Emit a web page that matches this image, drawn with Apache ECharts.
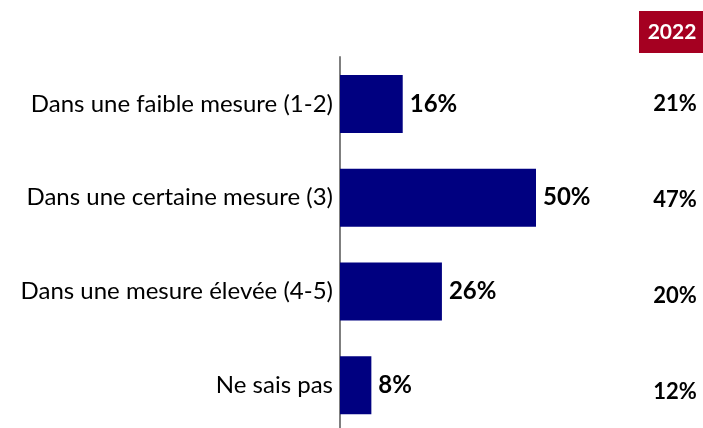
<!DOCTYPE html>
<html>
<head>
<meta charset="utf-8">
<script src="https://cdn.jsdelivr.net/npm/echarts@6/dist/echarts.min.js"></script>
<style>
  html, body { margin: 0; padding: 0; background: #fff; }
  #chart { width: 703px; height: 428px; }
</style>
</head>
<body>
<div id="chart"></div>
<script>
// Survey answers, current wave and the 2022 comparison column
const categories = [
  'Dans une faible mesure (1-2)',
  'Dans une certaine mesure (3)',
  'Dans une mesure élevée (4-5)',
  'Ne sais pas'
];
const currentValues = [16, 50, 26, 8];
const values2022 = [21, 47, 20, 12];
const compareLabel = '2022';

const FONT = 'Lato, "Open Sans", sans-serif';

const chart = echarts.init(document.getElementById('chart'), null, { renderer: 'canvas' });

chart.setOption({
  animation: false,
  backgroundColor: '#ffffff',
  graphic: [
    {
      type: 'rect',
      shape: { x: 639, y: 11, width: 64, height: 42 },
      style: { fill: '#A50021' }
    },
    {
      type: 'text',
      x: 672, y: 32,
      style: {
        text: compareLabel,
        fill: '#ffffff',
        font: 'bold 21px ' + FONT,
        align: 'center',
        verticalAlign: 'middle'
      }
    }
  ],
  grid: [
    { left: 340, top: 57, width: 235.2, height: 375, outerBoundsMode: 'none', containLabel: false },
    { left: 650, top: 56, width: 50, height: 384, outerBoundsMode: 'none', containLabel: false }
  ],
  xAxis: [
    { type: 'value', gridIndex: 0, min: 0, max: 60, show: false },
    { type: 'value', gridIndex: 1, min: 0, max: 1, show: false }
  ],
  yAxis: [
    {
      type: 'category',
      gridIndex: 0,
      inverse: true,
      data: categories,
      axisLine: { show: true, lineStyle: { color: '#7f7f7f', width: 2 } },
      axisTick: { show: false },
      splitLine: { show: false },
      axisLabel: {
        margin: 7,
        color: '#000000',
        fontFamily: FONT,
        fontSize: 24
      }
    },
    {
      type: 'category',
      gridIndex: 1,
      inverse: true,
      data: categories,
      show: false
    }
  ],
  series: [
    {
      type: 'bar',
      xAxisIndex: 0,
      yAxisIndex: 0,
      data: currentValues,
      barWidth: 58,
      itemStyle: { color: '#000080' },
      label: {
        show: true,
        position: 'right',
        distance: 7,
        formatter: p => p.value + '%',
        color: '#000000',
        fontFamily: FONT,
        fontWeight: 'bold',
        fontSize: 24
      }
    },
    {
      type: 'scatter',
      xAxisIndex: 1,
      yAxisIndex: 1,
      symbolSize: 0,
      itemStyle: { opacity: 1 },
      data: values2022.map((v, i) => [0.5, i, v]),
      label: {
        show: true,
        position: 'inside',
        formatter: p => p.value[2] + '%',
        color: '#000000',
        opacity: 1,
        fontFamily: FONT,
        fontWeight: 'bold',
        fontSize: 22
      }
    }
  ]
});
</script>
</body>
</html>
